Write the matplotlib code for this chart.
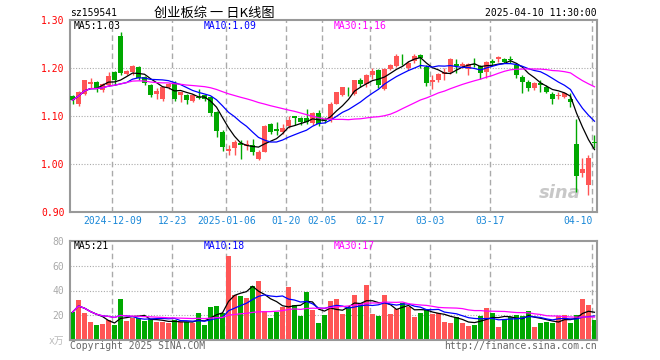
import matplotlib
matplotlib.use("Agg")
import matplotlib.pyplot as plt
import matplotlib.transforms as mtransforms
import numpy as np
import pandas as pd

# ------------------- DADOS -------------------
opens = [1.142, 1.126, 1.146, 1.167, 1.171, 1.154, 1.165, 1.192, 1.267, 1.188,
         1.192, 1.203, 1.181, 1.165, 1.146, 1.135, 1.160, 1.169, 1.143, 1.144,
         1.131, 1.140, 1.143, 1.139, 1.108, 1.067, 1.028, 1.033, 1.044, 1.038,
         1.040, 1.010, 1.026, 1.083, 1.072, 1.067, 1.079, 1.099, 1.096, 1.096,
         1.086, 1.107, 1.094, 1.094, 1.126, 1.143, 1.151, 1.146, 1.174, 1.167,
         1.185, 1.196, 1.157, 1.197, 1.204, 1.226, 1.199, 1.214, 1.228, 1.203,
         1.171, 1.176, 1.188, 1.192, 1.208, 1.204, 1.197, 1.208, 1.204, 1.192,
         1.214, 1.218, 1.219, 1.219, 1.206, 1.182, 1.171, 1.158, 1.168, 1.161,
         1.146, 1.142, 1.140, 1.136, 1.042, 0.982, 0.957, 1.046]
closes = [1.133, 1.150, 1.174, 1.171, 1.158, 1.167, 1.183, 1.176, 1.190, 1.194,
          1.204, 1.179, 1.168, 1.144, 1.153, 1.161, 1.167, 1.136, 1.149, 1.133,
          1.143, 1.138, 1.135, 1.107, 1.069, 1.035, 1.032, 1.046, 1.039, 1.042,
          1.024, 1.025, 1.079, 1.067, 1.069, 1.076, 1.092, 1.096, 1.088, 1.088,
          1.106, 1.083, 1.089, 1.126, 1.149, 1.160, 1.149, 1.175, 1.167, 1.185,
          1.193, 1.164, 1.197, 1.206, 1.226, 1.224, 1.211, 1.226, 1.221, 1.169,
          1.176, 1.188, 1.192, 1.218, 1.204, 1.208, 1.208, 1.206, 1.189, 1.213,
          1.211, 1.222, 1.213, 1.217, 1.185, 1.171, 1.158, 1.168, 1.164, 1.150,
          1.136, 1.144, 1.147, 1.129, 0.975, 0.990, 1.013, 1.043]
highs = [1.144, 1.153, 1.175, 1.179, 1.172, 1.169, 1.192, 1.194, 1.275, 1.196,
         1.207, 1.204, 1.183, 1.167, 1.158, 1.163, 1.169, 1.172, 1.151, 1.146,
         1.146, 1.157, 1.143, 1.142, 1.110, 1.070, 1.039, 1.049, 1.051, 1.049,
         1.053, 1.029, 1.081, 1.085, 1.088, 1.084, 1.099, 1.099, 1.097, 1.114,
         1.108, 1.112, 1.098, 1.129, 1.151, 1.160, 1.160, 1.176, 1.179, 1.188,
         1.200, 1.197, 1.199, 1.209, 1.229, 1.229, 1.214, 1.229, 1.230, 1.206,
         1.185, 1.190, 1.199, 1.221, 1.218, 1.213, 1.211, 1.221, 1.207, 1.214,
         1.218, 1.226, 1.221, 1.224, 1.210, 1.186, 1.174, 1.171, 1.175, 1.165,
         1.150, 1.150, 1.150, 1.147, 1.094, 1.013, 1.019, 1.061]
lows = [1.124, 1.121, 1.144, 1.158, 1.149, 1.149, 1.163, 1.164, 1.186, 1.185,
        1.185, 1.176, 1.164, 1.140, 1.136, 1.132, 1.157, 1.132, 1.129, 1.124,
        1.129, 1.136, 1.132, 1.101, 1.057, 1.028, 1.019, 1.018, 1.010, 1.029,
        1.019, 1.008, 1.024, 1.063, 1.060, 1.063, 1.075, 1.081, 1.081, 1.084,
        1.081, 1.079, 1.086, 1.088, 1.124, 1.142, 1.142, 1.144, 1.160, 1.160,
        1.178, 1.158, 1.154, 1.195, 1.202, 1.207, 1.196, 1.211, 1.199, 1.163,
        1.157, 1.171, 1.176, 1.188, 1.190, 1.199, 1.185, 1.202, 1.178, 1.179,
        1.207, 1.213, 1.210, 1.211, 1.179, 1.147, 1.153, 1.154, 1.149, 1.147,
        1.124, 1.136, 1.138, 1.119, 0.942, 0.972, 0.935, 1.033]
volumes = [22.5, 32.4, 22.2, 14.7, 12.3, 13.1, 16.3, 12.3, 33.2, 15.5,
           17.4, 17.9, 15.5, 16.9, 14.7, 14.7, 13.4, 15.8, 14.7, 14.7,
           13.9, 21.7, 11.8, 26.8, 27.6, 21.7, 67.7, 36.4, 35.6, 34.0,
           43.6, 47.6, 23.5, 17.9, 22.7, 26.8, 42.8, 28.4, 19.5, 38.8,
           24.3, 13.9, 20.3, 31.8, 33.2, 21.1, 27.0, 36.4, 29.7, 44.4,
           21.1, 19.5, 36.4, 21.1, 25.4, 29.7, 27.0, 18.7, 21.9, 24.3,
           21.1, 21.7, 14.7, 13.9, 18.7, 13.9, 11.5, 12.3, 19.5, 26.0,
           21.9, 10.7, 17.1, 18.2, 20.3, 19.5, 23.5, 10.7, 13.9, 14.7,
           13.9, 19.5, 20.3, 13.9, 20.3, 33.2, 28.4, 16.3]

# posições (índice do pregão) e rótulos das datas
tick_idx = [7, 17, 26, 36, 42, 50, 60, 70, 87]
tick_labels = ["2024-12-09", "12-23", "2025-01-06", "01-20", "02-05",
               "02-17", "03-03", "03-17", "04-10"]

price_ticks = [0.90, 1.00, 1.10, 1.20, 1.30]
vol_ticks = [20, 40, 60, 80]

# ------------------- ESTILO -------------------
W, H = 660, 360
RED = "#ff5555"
GREEN = "#00a800"
GRID = "#aaaaaa"
FRAME = "#999999"
DATEBLUE = "#1a88d8"
MONO = "DejaVu Sans Mono"
FS = 7

o = np.array(opens)
c = np.array(closes)
hi = np.array(highs)
lo = np.array(lows)
vol = np.array(volumes)
x = np.arange(len(c))
up = c >= o
cols = np.where(up, RED, GREEN)

ma = {n: pd.Series(c).rolling(n, min_periods=1).mean() for n in (5, 10, 30)}
vma = {n: pd.Series(vol).rolling(n, min_periods=1).mean() for n in (5, 10, 30)}
ma_cols = {5: "black", 10: "#0000ff", 30: "#ff00ff"}

fig = plt.figure(figsize=(W / 100, H / 100), dpi=100)
fig.patch.set_facecolor("white")


def rect(left, top, right, bottom):
    return [left / W, 1 - bottom / H, (right - left) / W, (bottom - top) / H]


def ftext(px, py, s, **kw):
    fig.text(px / W, 1 - py / H, s, **kw)


ax = fig.add_axes(rect(70, 20, 597, 212))
axv = fig.add_axes(rect(70, 241, 597, 340))

xmin, xmax = -0.42, len(c) - 0.58
for a in (ax, axv):
    a.set_xlim(xmin, xmax)
    for s in a.spines.values():
        s.set_color(FRAME)
        s.set_linewidth(1.5)
    a.set_xticks([])
    a.tick_params(axis="y", length=0, pad=4)
    for t in tick_idx:
        a.axvline(t - 0.35, color=GRID, lw=1, ls=(0, (4, 2.5)), zorder=0)

# ------------------- PREÇO -------------------
ax.set_ylim(0.90, 1.30)
for yv in price_ticks[1:-1]:
    ax.axhline(yv, color=GRID, lw=0.8, ls=(0, (1, 1.5)), zorder=0)
ax.set_yticks(price_ticks)
ax.set_yticklabels([f"{v:.2f}" for v in price_ticks], color="#ff0000",
                   fontsize=FS, family=MONO)

ax.vlines(x, lo, hi, colors=cols, lw=1.0, zorder=2)
body = np.maximum(np.abs(c - o), 0.0015)
ax.bar(x, body, bottom=np.minimum(o, c), width=0.75, color=cols,
       linewidth=0, zorder=3)
for n in (5, 10, 30):
    ax.plot(x, ma[n], color=ma_cols[n], lw=0.9, zorder=4)

tr = mtransforms.blended_transform_factory(ax.transData, ax.transAxes)
for t, lab in zip(tick_idx, tick_labels):
    ha = "right" if t == tick_idx[-1] else "center"
    ax.text(t - 0.35, -0.047, lab, transform=tr, ha=ha, va="center",
            color=DATEBLUE, fontsize=FS, family=MONO)

ax.text(0.97, 0.1, "sina", transform=ax.transAxes, ha="right", va="center",
        fontsize=13, fontweight="bold", style="italic", color="#c8c8c8",
        zorder=1)

# ------------------- VOLUME -------------------
axv.set_ylim(0, 80)
for yv in vol_ticks[:-1]:
    axv.axhline(yv, color=GRID, lw=0.8, ls=(0, (1, 1.5)), zorder=0)
axv.set_yticks(vol_ticks)
axv.set_yticklabels([str(v) for v in vol_ticks], color="#aaaaaa",
                    fontsize=FS, family=MONO)
axv.bar(x, vol, width=0.78, color=cols, linewidth=0, zorder=2)
for n in (5, 10, 30):
    axv.plot(x, vma[n], color=ma_cols[n], lw=0.9, zorder=3)

# ------------------- TEXTOS -------------------
ftext(70, 13, "sz159541", ha="left", va="center", fontsize=FS, family=MONO)
ftext(214, 13, "创业板综 一 日K线图", ha="center", va="center", fontsize=9.5,
      family=["Noto Sans CJK SC", "DejaVu Sans"])
ftext(597, 13, "2025-04-10 11:30:00", ha="right", va="center", fontsize=FS,
      family=MONO)

ftext(74, 26, "MA5:1.03", ha="left", va="center", fontsize=FS, family=MONO,
      color="black")
ftext(204, 26, "MA10:1.09", ha="left", va="center", fontsize=FS, family=MONO,
      color="#0000ff")
ftext(334, 26, "MA30:1.16", ha="left", va="center", fontsize=FS, family=MONO,
      color="#ff00ff")

ftext(74, 246, "MA5:21", ha="left", va="center", fontsize=FS, family=MONO,
      color="black")
ftext(204, 246, "MA10:18", ha="left", va="center", fontsize=FS, family=MONO,
      color="#0000ff")
ftext(334, 246, "MA30:17", ha="left", va="center", fontsize=FS, family=MONO,
      color="#ff00ff")

ftext(64, 341, "x万", ha="right", va="center", fontsize=FS, color="#bbbbbb",
      family=[MONO, "Noto Sans CJK SC"])
ftext(70, 346, "Copyright 2025 SINA.COM", ha="left", va="center",
      fontsize=FS, family=MONO, color="#666666")
ftext(597, 346, "http://finance.sina.com.cn", ha="right", va="center",
      fontsize=FS, family=MONO, color="#666666")

fig.savefig("out.png", dpi=100, facecolor="white")
